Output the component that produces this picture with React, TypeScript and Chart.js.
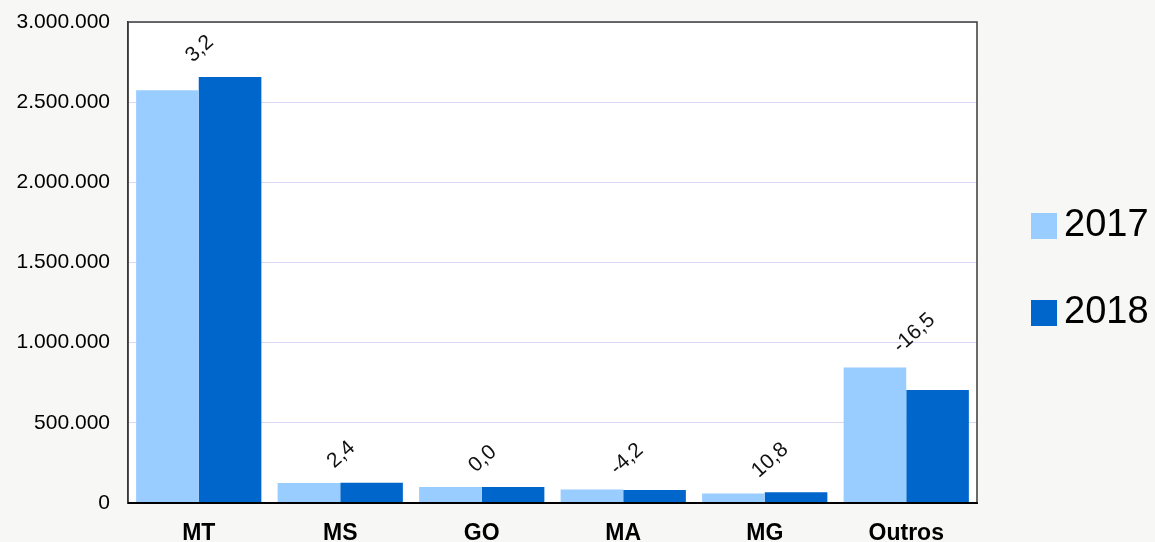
import React, { useEffect, useRef } from "react";
import { Chart, registerables } from "chart.js";

Chart.register(...registerables);

const categories = ["MT", "MS", "GO", "MA", "MG", "Outros"];
const series2017 = [2575000, 124000, 100000, 84000, 60000, 845000];
const series2018 = [2657000, 127000, 100000, 80500, 66500, 705500];
const changeLabels = ["3,2", "2,4", "0,0", "-4,2", "10,8", "-16,5"];
const seriesNames = ["2017", "2018"];
const seriesColors = ["#99CCFF", "#0066CC"];

const FONT = "'Liberation Sans', Arial, sans-serif";

const fmt = (v: number) => String(v).replace(/\B(?=(\d{3})+(?!\d))/g, ".");

const plotFrame = {
  id: "plotFrame",
  beforeDraw(chart: any) {
    const { ctx, chartArea: a } = chart;
    ctx.save();
    ctx.fillStyle = "#FFFFFF";
    ctx.fillRect(a.left, a.top, a.right - a.left, a.bottom - a.top);
    ctx.restore();
  },
  afterDatasetsDraw(chart: any) {
    const { ctx, chartArea: a } = chart;
    ctx.save();
    ctx.strokeStyle = "#3a3a3a";
    ctx.lineWidth = 1.5;
    ctx.beginPath();
    ctx.moveTo(a.left, a.bottom);
    ctx.lineTo(a.left, a.top);
    ctx.lineTo(a.right, a.top);
    ctx.lineTo(a.right, a.bottom);
    ctx.stroke();
    ctx.strokeStyle = "#000000";
    ctx.lineWidth = 2;
    ctx.beginPath();
    ctx.moveTo(a.left, a.bottom);
    ctx.lineTo(a.right, a.bottom);
    ctx.stroke();
    ctx.restore();
  },
};

const changeLabelPlugin = {
  id: "changeLabels",
  afterDatasetsDraw(chart: any) {
    const { ctx } = chart;
    const xs = chart.scales.x;
    const ys = chart.scales.y;
    ctx.save();
    ctx.font = `21px ${FONT}`;
    ctx.fillStyle = "#111111";
    ctx.textAlign = "left";
    ctx.textBaseline = "alphabetic";
    changeLabels.forEach((lbl, i) => {
      const cx = xs.getPixelForValue(i);
      const top = Math.min(ys.getPixelForValue(series2017[i]), ys.getPixelForValue(series2018[i]));
      ctx.save();
      ctx.translate(cx - 6, top - 14);
      ctx.rotate((-42 * Math.PI) / 180);
      ctx.fillText(lbl, 0, 0);
      ctx.restore();
    });
    ctx.restore();
  },
};

const sideLegend = {
  id: "sideLegend",
  afterDraw(chart: any) {
    const { ctx, width } = chart;
    ctx.save();
    ctx.font = `38px ${FONT}`;
    ctx.textAlign = "left";
    ctx.textBaseline = "middle";
    const x0 = width - 124;
    const ys = [213, 300];
    chart.data.datasets.forEach((ds: any, i: number) => {
      ctx.fillStyle = ds.backgroundColor;
      ctx.fillRect(x0, ys[i], 26, 26);
      ctx.fillStyle = "#000000";
      ctx.fillText(ds.label, x0 + 33, ys[i] + 13);
    });
    ctx.restore();
  },
};

export default function App() {
  const ref = useRef<HTMLCanvasElement | null>(null);

  useEffect(() => {
    if (!ref.current) return;
    const chart = new Chart(ref.current, {
      type: "bar",
      data: {
        labels: categories,
        datasets: [
          { label: seriesNames[0], data: series2017, backgroundColor: seriesColors[0], barPercentage: 1, categoryPercentage: 0.885 },
          { label: seriesNames[1], data: series2018, backgroundColor: seriesColors[1], barPercentage: 1, categoryPercentage: 0.885 },
        ],
      },
      options: {
        animation: false,
        responsive: false,
        maintainAspectRatio: false,
        layout: { padding: { top: 22, right: 178, left: 0, bottom: 0 } },
        plugins: { legend: { display: false }, tooltip: { enabled: false } },
        scales: {
          x: {
            grid: { display: false, drawTicks: false },
            border: { display: true, color: "#000000", width: 2 },
            ticks: { color: "#000000", padding: 17, font: { family: FONT, size: 23, weight: "bold" } },
            afterFit: (s: any) => { s.height = 39; },
          },
          y: {
            min: 0,
            max: 3000000,
            grid: { color: "#D9D9F5", lineWidth: 1, drawTicks: true, tickLength: 18, tickColor: "rgba(0,0,0,0)" },
            border: { display: true, color: "#3a3a3a", width: 1.5 },
            ticks: {
              stepSize: 500000,
              color: "#000000",
              padding: 0,
              font: { family: FONT, size: 21 },
              callback: (v: any) => fmt(Number(v)),
            },
            afterFit: (s: any) => { s.width = 128; },
          },
        },
      },
      plugins: [plotFrame, changeLabelPlugin, sideLegend],
    });
    return () => chart.destroy();
  }, []);

  return (
    <div style={{ position: "fixed", left: 0, top: 0, width: 1155, height: 542, background: "#F7F8F6" }}>
      <canvas ref={ref} width={1155} height={542} style={{ width: 1155, height: 542, display: "block" }} />
    </div>
  );
}
